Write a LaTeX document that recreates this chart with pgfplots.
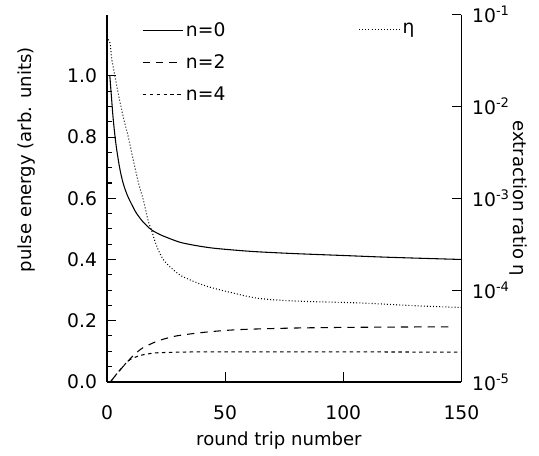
\documentclass[border=0pt]{standalone}
\usepackage{pgfplots}
\pgfplotsset{compat=1.18}
\usepackage{fontspec}
\setmainfont{DejaVu Sans}

\pgfplotsset{
  common/.style={
    scale only axis, width=265pt, height=274.5pt,
    xmin=0, xmax=150,
    tick align=inside,
    axis line style={line width=1.1pt},
    every tick/.style={line width=0.8pt, black},
    major tick length=7pt, minor tick length=4pt,
    tick label style={font=\fontsize{14}{16}\selectfont},
    label style={font=\fontsize{13.5}{15}\selectfont},
    /pgf/number format/assume math mode=true,
  },
  legend image code/.code={\draw[#1] (0pt,0pt) -- (30pt,0pt);},
}

\begin{document}
\begin{tikzpicture}
\begin{axis}[
  common, name=ax,
  axis x line*=bottom, axis y line*=left,
  ymin=0, ymax=1.2,
  ytick={0,0.2,0.4,0.6,0.8,1.0},
  minor y tick num=3,
  xtick={0,50,100,150},
  xticklabel style={yshift=-14pt},
  yticklabel style={xshift=-4pt, /pgf/number format/.cd, fixed, fixed zerofill, precision=1},
  xlabel={round trip number},
  xlabel style={at={(axis description cs:0.485,-0.16)}, anchor=center},
  ylabel={pulse energy (arb. units)},
  ylabel style={at={(axis description cs:-0.226,0.605)}, anchor=center},
  legend style={draw=none, fill=none, at={(0.087,0.993)}, anchor=north west,
    font=\fontsize{14}{16}\selectfont, row sep=8pt},
  legend cell align=left,
]
% n=0
\addplot[black, line width=0.8pt, smooth] coordinates {
(1.2,1.0)(1.5,0.97)(2,0.92)(2.5,0.87)(3,0.83)(3.5,0.795)(4,0.765)(5,0.715)
(6,0.675)(7,0.645)(8,0.622)(9,0.603)(10,0.587)(11,0.572)(12,0.557)(13.3,0.542)
(15,0.525)(17,0.509)(19,0.496)(22,0.483)(25,0.473)(31,0.456)(38,0.445)
(45,0.437)(55,0.43)(64,0.425)(80,0.419)(100,0.413)(120,0.407)(150,0.40)
};
% n=2
\addplot[black, line width=0.8pt, dash pattern=on 5.5pt off 4.5pt, smooth] coordinates {
(1.5,0)(4,0.025)(6,0.043)(8.6,0.065)(10,0.077)(12,0.092)(14,0.105)(16,0.115)
(18,0.122)(20,0.129)(22.5,0.136)(25,0.142)(30,0.151)(40,0.161)(50,0.168)
(60,0.172)(80,0.176)(100,0.178)(120,0.179)(146,0.18)
};
% n=4
\addplot[black, line width=0.8pt, dash pattern=on 2.6pt off 2.6pt, smooth] coordinates {
(1.5,0)(4,0.025)(6,0.043)(8.6,0.066)(10,0.074)(12.8,0.083)(15,0.088)
(17.9,0.092)(21.3,0.095)(30,0.097)(40,0.098)(60,0.098)(100,0.098)(150,0.097)
};
\legend{n=0, n=2, n=4}
\end{axis}

\begin{axis}[
  common,
  axis x line=none, axis y line*=right,
  ymode=log, ymin=1e-5, ymax=1e-1,
  ytick={1e-5,1e-4,1e-3,1e-2,1e-1},
  yticklabels={10\textsuperscript{-5},10\textsuperscript{-4},10\textsuperscript{-3},10\textsuperscript{-2},10\textsuperscript{-1}},
  yticklabel style={xshift=4.5pt},
  yminorticks=false,
  ylabel={extraction ratio η},
  ylabel style={at={(axis description cs:1.16,0.5)}, anchor=center, rotate=180},
  legend style={draw=none, fill=none, at={(0.698,0.993)}, anchor=north west,
    font=\fontsize{14}{16}\selectfont},
]
% eta
\addplot[black, line width=0.8pt, dash pattern=on 0.7pt off 1.6pt, smooth] coordinates {
(0.5,0.0537)(1.3,0.049)(2,0.0331)(3,0.024)(4.1,0.017)(5,0.0129)(6.2,0.00923)
(7.5,0.00661)(9,0.00468)(11.1,0.00263)(13.3,0.00148)(15.4,9.55e-4)
(17.5,5.6e-4)(19,4.37e-4)(20.3,3.4e-4)(22,2.63e-4)(23.9,2.14e-4)(26,1.86e-4)
(28.1,1.66e-4)(31,1.45e-4)(35.2,1.29e-4)(40,1.15e-4)(45,1.05e-4)(53,9.33e-5)
(64,8.13e-5)(80,7.59e-5)(107,7.24e-5)(130,6.76e-5)(150,6.46e-5)
};
\legend{η}
\end{axis}
\pgfresetboundingbox
\path ([xshift=-80pt,yshift=-55pt]ax.south west) rectangle ([xshift=58pt,yshift=11pt]ax.north east);
\end{tikzpicture}
\end{document}
